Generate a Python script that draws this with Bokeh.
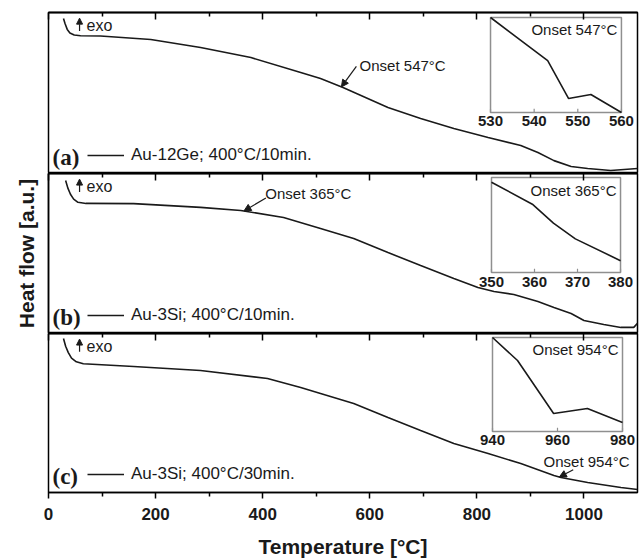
import numpy as np
from bokeh.plotting import figure
from bokeh.layouts import column
from bokeh.models import (Range1d, LinearAxis, Label, Legend, LegendItem, Arrow,
                          NormalHead, FixedTicker)
from bokeh.core.properties import value
from bokeh.embed import file_html
from bokeh.resources import INLINE

# ---------------- data ----------------
x_ticks = [0, 200, 400, 600, 800, 1000]

temp_a = [28, 31, 35, 40, 48, 60, 97, 191, 284, 378, 471, 508, 550, 634, 695, 757, 821,
          882, 914, 944, 976, 1007, 1050, 1100]
flow_a = [96.3, 93, 89.5, 87.3, 86, 85.6, 85.4, 83.2, 78.3, 72, 62.7, 59, 53.4, 41, 34.2,
          28, 22.4, 17.4, 13, 8, 4.3, 3.1, 1.9, 3.1]

temp_b = [32, 36, 41, 47, 55, 70, 159, 284, 359, 439, 508, 570, 634, 695, 757, 802, 832,
          869, 914, 944, 976, 1000, 1037, 1069, 1093, 1100]
flow_b = [95.6, 91, 87, 84, 82, 81.3, 81.2, 78.8, 76.9, 72.5, 65.6, 59.4, 50.6, 42.5, 34.4,
          28.8, 26.3, 24.4, 20, 16.3, 12.5, 8.1, 5.6, 3.8, 3.8, 6.3]

temp_c = [28, 32, 37, 43, 52, 65, 159, 284, 409, 471, 508, 570, 634, 695, 757, 821, 882,
          944, 957, 1007, 1069, 1100]
flow_c = [96.9, 92, 88, 84.5, 82.2, 81, 79.2, 76.7, 71.7, 66, 62.3, 56, 47.2, 39, 30.8,
          24.5, 18.2, 10.7, 9.4, 6.3, 3.1, 1.9]

inset_a_t = [530, 543.1, 547.9, 553, 560]
inset_a_v = [100, 54.7, 14.7, 18.9, 0]
inset_a_ticks = [530, 540, 550, 560]

inset_b_t = [350, 359.5, 364.4, 369.5, 380]
inset_b_v = [95, 71.9, 52, 35.4, 12.5]
inset_b_ticks = [350, 360, 370, 380]

inset_c_t = [940, 947.7, 958.8, 969.2, 980]
inset_c_v = [100, 75.5, 19.1, 24.5, 9.6]
inset_c_ticks = [940, 960, 980]

onsets = [547, 365, 954]
panel_tags = ["(a)", "(b)", "(c)"]
legend_labels = ["Au-12Ge; 400°C/10min.", "Au-3Si; 400°C/10min.", "Au-3Si; 400°C/30min."]

FONT = "Liberation Sans"
INK = "#1a1a1a"

xr = Range1d(0, 1100)
minor = [float(m) for m in np.arange(100, 1100, 200)]


def tick_axis(ticks, length, inward=True):
    """Axis that draws only tick marks (no labels)."""
    return LinearAxis(ticker=FixedTicker(ticks=[], minor_ticks=ticks),
                      minor_tick_in=length if inward else 0,
                      minor_tick_out=0 if inward else length,
                      major_tick_in=0, major_tick_out=0,
                      major_label_standoff=0,
                      axis_line_width=1.5, minor_tick_line_width=1.5,
                      minor_tick_line_color="black", axis_line_color="black")


def make_panel(temp, flow, onset, tag, leg, ins_t, ins_v, ins_ticks, ins_tx, ins_ty,
               arrow_geo, height, top, bottom_axis=False, ylabel=None):
    p = figure(width=641, height=height, x_range=xr, y_range=Range1d(0, 100),
               output_backend="svg", toolbar_location=None,
               x_axis_location=None, y_axis_location=None,
               min_border_left=48, min_border_right=4, min_border_top=top,
               min_border_bottom=0)
    p.grid.visible = False
    p.outline_line_color = "black"
    p.outline_line_width = 1.5
    p.background_fill_color = "white"
    p.border_fill_color = "white"

    # top inner ticks (major + minor)
    p.add_layout(tick_axis(x_ticks, 7), "above")
    p.add_layout(tick_axis(minor, 4), "above")

    if bottom_axis:
        ax = LinearAxis(ticker=FixedTicker(ticks=x_ticks, minor_ticks=minor),
                        major_tick_in=0, major_tick_out=6, minor_tick_in=0, minor_tick_out=4,
                        axis_line_width=1.5, major_tick_line_width=1.5,
                        minor_tick_line_width=1.5,
                        major_label_text_font=FONT, major_label_text_font_style="bold",
                        major_label_text_font_size="17px", major_label_text_color=INK,
                        major_label_standoff=9,
                        axis_label="Temperature [°C]", axis_label_text_font=FONT,
                        axis_label_text_font_style="bold", axis_label_text_font_size="21px",
                        axis_label_text_color=INK, axis_label_standoff=12)
        p.add_layout(ax, "below")

    if ylabel:
        ya = LinearAxis(ticker=FixedTicker(ticks=[], minor_ticks=[]),
                        major_tick_in=0, major_tick_out=0, minor_tick_in=0, minor_tick_out=0,
                        major_label_standoff=0, axis_line_width=1.5,
                        axis_label=ylabel, axis_label_text_font=FONT,
                        axis_label_text_font_style="bold", axis_label_text_font_size="21px",
                        axis_label_text_color=INK, axis_label_standoff=11)
        p.add_layout(ya, "left")

    r = p.line(temp, flow, line_color=INK, line_width=1.6)

    # onset arrow + text
    fy = float(np.interp(onset, temp, flow))
    adx, ady, tdx, tdy = arrow_geo
    p.add_layout(Arrow(end=NormalHead(size=7, fill_color=INK, line_color=INK),
                       x_start=onset + adx, y_start=fy + ady, x_end=onset, y_end=fy,
                       line_color=INK, line_width=1.2))
    p.text(x=[onset + tdx], y=[fy + tdy], text=[f"Onset {onset}°C"],
           text_font=value(FONT), text_font_size="15px", text_color=INK,
           text_align="left", text_baseline="middle")

    # exo marker
    p.add_layout(Arrow(end=NormalHead(size=6, fill_color=INK, line_color=INK),
                       x_start=58, y_start=88.5, x_end=58, y_end=96.5,
                       line_color=INK, line_width=1.2))
    p.text(x=[71], y=[92], text=["exo"], text_font=value(FONT), text_font_size="16px",
           text_color=INK, text_align="left", text_baseline="middle")

    # panel tag + legend
    p.add_layout(Label(x=4, y=16, x_units="screen", y_units="screen", text=tag,
                       text_font="Liberation Serif", text_font_style="bold",
                       text_font_size="23px", text_color=INK, text_baseline="middle"))
    legend = Legend(items=[LegendItem(label=leg, renderers=[r])], location=(39, 8),
                    glyph_width=37, glyph_height=16, label_height=16, label_standoff=7,
                    padding=0, margin=0, border_line_alpha=0, background_fill_alpha=0,
                    label_text_font=FONT, label_text_font_size="17px",
                    label_text_color=INK)
    p.add_layout(legend)

    # inset
    sub = p.subplot(x_source=Range1d(ins_ticks[0], ins_ticks[-1]), y_source=Range1d(0, 100),
                    x_target=Range1d(*ins_tx), y_target=Range1d(*ins_ty))
    sub.quad(left=[ins_ticks[0]], right=[ins_ticks[-1]], bottom=[0], top=[100],
             fill_alpha=0, line_color="#8f8f8f", line_width=1.5)
    sub.segment(x0=ins_ticks, y0=[0] * len(ins_ticks), x1=ins_ticks, y1=[4] * len(ins_ticks),
                line_color="#8f8f8f", line_width=1.2)
    sub.line(ins_t, ins_v, line_color=INK, line_width=1.6)
    sub.text(x=ins_ticks, y=[0] * len(ins_ticks), text=[str(t) for t in ins_ticks],
             text_font=value(FONT), text_font_style="bold", text_font_size="15px",
             text_color=INK, text_align="center", text_baseline="top", y_offset=4)
    sub.text(x=[ins_ticks[-1]], y=[100], text=[f"Onset {onset}°C"], text_font=value(FONT),
             text_font_size="15px", text_color=INK, text_align="right",
             text_baseline="top", x_offset=-4, y_offset=4)
    return p


pa = make_panel(temp_a, flow_a, onsets[0], panel_tags[0], legend_labels[0],
                inset_a_t, inset_a_v, inset_a_ticks, (825.5, 1070), (37.9, 96.9),
                (28, 12.8, 34, 13.3), height=173, top=12)
pb = make_panel(temp_b, flow_b, onsets[1], panel_tags[1], legend_labels[1],
                inset_b_t, inset_b_v, inset_b_ticks, (827.3, 1068.3), (38.1, 97.5),
                (41, 8.1, 40, 10.9), height=160, top=0, ylabel="Heat flow [a.u.]")
pc = make_panel(temp_c, flow_c, onsets[2], panel_tags[2], legend_labels[2],
                inset_c_t, inset_c_v, inset_c_ticks, (829.2, 1072), (38.4, 97.5),
                (26, 4.6, -29.5, 10), height=227, top=0, bottom_axis=True)

layout = column(pa, pb, pc, spacing=0)
open("out.html", "w").write(file_html(layout, INLINE))
